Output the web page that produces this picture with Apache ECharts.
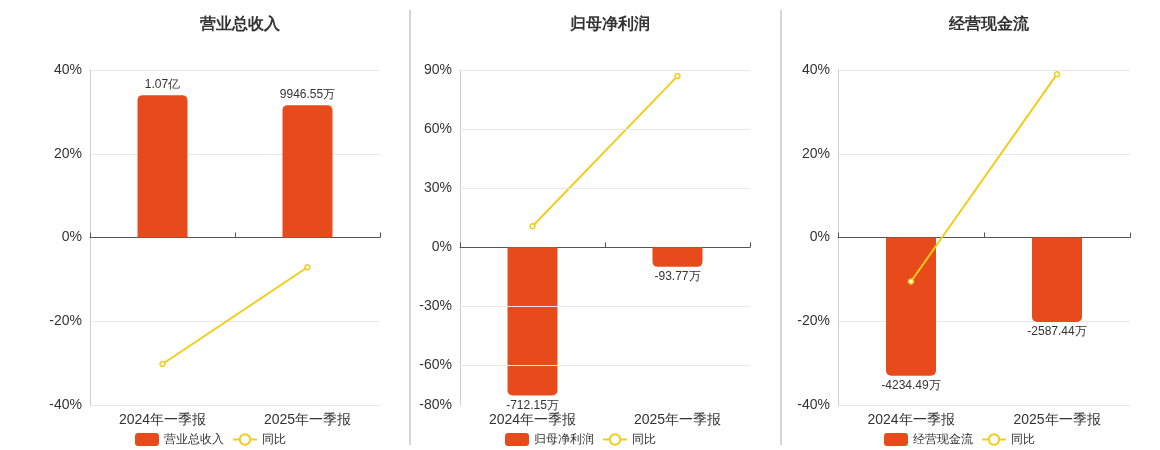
<!DOCTYPE html><html><head><meta charset="utf-8"><script src="https://cdn.jsdelivr.net/npm/echarts@6/dist/echarts.min.js"></script></head><body style="margin:0"><div id="c" style="width:1160px;height:450px"></div><script>
const categories=['2024年一季报','2025年一季报'];
const titles=['营业总收入','归母净利润','经营现金流'];
const rev=[1.07e8,9946.55e4], revLabels=['1.07亿','9946.55万'], revYoY=[-30.2,-7.1];
const np=[-712.15,-93.77], npLabels=['-712.15万','-93.77万'], npYoY=[10.7,86.9];
const cf=[-4234.49,-2587.44], cfLabels=['-4234.49万','-2587.44万'], cfYoY=[-10.5,39.0];
const pctAxes=[{min:-40,max:40,interval:20},{min:-80,max:90,interval:30,ticks:[-80,-60,-30,0,30,60,90]},{min:-40,max:40,interval:20}];
const scale=[1.07e8/34,712.15/75.2,4234.49/33];
const panels=[[rev,revLabels,revYoY],[np,npLabels,npYoY],[cf,cfLabels,cfYoY]];
const lefts=[90,460,838], widths=[290,290,292], centers=[235,605,984];
const BAR='#E84B1B', LINE='#F2CD1C';
const opt={animation:false,title:[],grid:[],xAxis:[],yAxis:[],series:[],legend:[],
 graphic:[{type:'line',shape:{x1:410,y1:10,x2:410,y2:445},style:{stroke:'#aaa'}},{type:'line',shape:{x1:781,y1:10,x2:781,y2:445},style:{stroke:'#aaa'}}]};
panels.forEach((p,i)=>{
 const a=pctAxes[i];
 opt.title.push({text:titles[i],left:centers[i],top:12,textAlign:'center',textStyle:{fontSize:16,fontWeight:'bold',color:'#333'}});
 opt.grid.push({left:lefts[i],width:widths[i],top:70,bottom:45});
 opt.xAxis.push({type:'category',gridIndex:i,data:categories,position:'bottom',axisLine:{show:false},axisTick:{show:false},axisLabel:{fontSize:14,color:'#333',margin:8}});
 opt.xAxis.push({type:'category',gridIndex:i,data:categories,axisLine:{onZero:true,onZeroAxisIndex:2*i,lineStyle:{color:'#555'}},axisTick:{show:true,lineStyle:{color:'#555'}},axisLabel:{show:false}});
 opt.yAxis.push({type:'value',gridIndex:i,min:a.min,max:a.max,interval:i==1?10:a.interval,
  axisLine:{show:true,lineStyle:{color:'#ccc'}},
  axisLabel:{fontSize:14,color:'#333',formatter:v=>(i!=1||[-80,-60,-30,0,30,60,90].includes(v))?v+'%':''},
  splitLine:{show:true,lineStyle:{color:'#e8e8e8'},interval:(idx,v)=>true}});
 opt.yAxis.push({type:'value',gridIndex:i,min:a.min*scale[i],max:a.max*scale[i],show:false,splitLine:{show:false}});
 const labels=p[1];
 opt.series.push({name:titles[i],type:'bar',xAxisIndex:2*i+1,yAxisIndex:2*i+1,barWidth:50,
  data:p[0].map(v=>({value:v,itemStyle:{borderRadius:v>=0?[5,5,0,0]:[0,0,5,5]},label:{position:v>=0?'top':'bottom'}})),
  itemStyle:{color:BAR},label:{show:true,fontSize:12,color:'#333',distance:4,formatter:o=>labels[o.dataIndex]}});
 opt.series.push({name:'同比',type:'line',xAxisIndex:2*i+1,yAxisIndex:2*i,data:p[2],symbol:'circle',symbolSize:5,
  itemStyle:{color:'#fff',borderColor:LINE,borderWidth:1.5},lineStyle:{color:LINE,width:2}});
 opt.legend.push({left:centers[i]-105,top:428,itemWidth:24,itemHeight:13,textStyle:{fontSize:12,color:'#333'},
  data:[{name:titles[i],icon:'roundRect',itemStyle:{color:BAR}},{name:'同比',itemStyle:{color:'#fff',borderColor:LINE}}]});
});
// remove grid lines at non-tick values for middle panel
opt.yAxis[2].interval=10; opt.yAxis[2].splitLine.show=false;
opt.yAxis[2].axisLabel.formatter=v=>[-80,-60,-30,0,30,60,90].includes(v)?v+'%':'';
opt.yAxis[2].axisTick={show:false};
const np30=[-60,-30,30,60,90];
np30.forEach(v=>opt.series.push({type:'line',xAxisIndex:3,yAxisIndex:2,data:[],markLine:{silent:true,symbol:'none',label:{show:false},lineStyle:{color:'#e8e8e8',type:'solid',width:1},data:[{yAxis:v}]}}));
echarts.init(document.getElementById('c')).setOption(opt);
</script></body></html>
